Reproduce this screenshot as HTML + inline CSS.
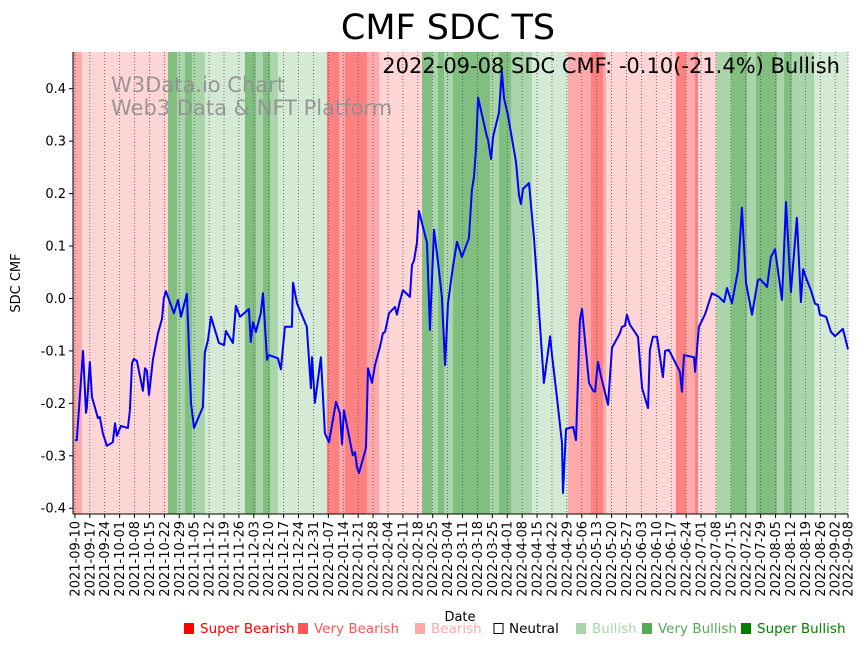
<!DOCTYPE html>
<html><head><meta charset="utf-8"><style>
html,body{margin:0;padding:0;background:#fff;}
svg{display:block;font-family:"DejaVu Sans","Liberation Sans",sans-serif;}
</style></head><body>
<svg id="chart" width="867" height="646" viewBox="0 0 867 646">
<text x="448" y="39" font-size="35" text-anchor="middle">CMF SDC TS</text>
<g id="bands"></g>
<g id="grid"></g>
<text x="111" y="92" font-size="21" fill="#8f8f8f" fill-opacity="0.9">W3Data.io Chart</text>
<text x="111" y="115" font-size="21" fill="#8f8f8f" fill-opacity="0.9">Web3 Data &amp; NFT Platform</text>
<text x="840" y="73" font-size="21" text-anchor="end">2022-09-08 SDC CMF: -0.10(-21.4%) Bullish</text>
<path id="line" fill="none" stroke="#0000ff" stroke-width="2" stroke-linejoin="round"/>
<line x1="73" y1="52" x2="73" y2="514" stroke="#000" stroke-width="1"/>
<line x1="73" y1="514" x2="848" y2="514" stroke="#000" stroke-width="1"/>
<g id="yticks"></g>
<g id="xticks"></g>
<text transform="translate(20,283) rotate(-90)" font-size="13" text-anchor="middle">SDC CMF</text>
<text x="460" y="621" font-size="13" text-anchor="middle">Date</text>
<g font-size="13.5">
<g><rect x="184" y="623" width="10" height="11" fill="#ff0000"/><text x="200" y="633" fill="#ff0000">Super Bearish</text></g>
<g><rect x="298" y="623" width="10" height="11" fill="#ff5555"/><text x="314" y="633" fill="#ff5555">Very Bearish</text></g>
<g><rect x="415" y="623" width="10" height="11" fill="#ffaaaa"/><text x="431" y="633" fill="#ffaaaa">Bearish</text></g>
<g><rect x="494" y="623.5" width="9" height="10" fill="none" stroke="#000"/><text x="509" y="633" fill="#000">Neutral</text></g>
<g><rect x="576" y="623" width="10" height="11" fill="#aad5aa"/><text x="592" y="633" fill="#aad5aa">Bullish</text></g>
<g><rect x="642" y="623" width="10" height="11" fill="#55aa55"/><text x="658" y="633" fill="#55aa55">Very Bullish</text></g>
<g><rect x="741" y="623" width="10" height="11" fill="#008000"/><text x="757" y="633" fill="#008000">Super Bullish</text></g>
</g>
</svg>
<script>
// day offsets from 2021-09-10
const days = [0,0.9,3.8,5.2,5.6,7.0,8.0,10.8,11.7,13.1,15.0,17.8,18.8,19.7,21.6,24.9,25.8,26.8,27.7,29.1,31.9,32.9,33.8,34.8,36.6,39.0,40.9,41.8,42.7,46.5,48.4,49.8,52.6,54.5,55.9,60.1,61.0,62.5,63.9,67.6,70.0,70.9,74.2,75.6,77.5,81.7,82.6,83.6,85.0,87.3,88.3,90.2,91.1,95.3,96.7,98.6,101.9,102.4,104.3,108.9,110.8,111.3,112.7,115.5,117.4,119.3,122.6,124.4,125.4,126.3,130.5,131.5,132.4,133.4,136.7,137.6,139.5,140.9,143.2,144.6,145.6,147.5,150.3,151.2,152.6,154.0,157.3,158.3,159.2,160.6,161.5,165.3,166.7,168.6,170.5,172.3,173.8,175.2,177.5,179.4,181.7,185.0,186.4,187.4,188.3,189.3,193.5,193.9,195.4,196.3,199.1,200.5,201.5,203.3,207.1,208.5,209.4,210.4,213.2,215.5,217.0,220.2,223.1,224.0,226.3,228.7,229.2,230.6,233.9,235.3,237.1,238.1,241.4,243.3,244.2,245.6,247.0,250.3,252.2,255.9,256.9,258.3,259.2,260.6,264.4,266.3,269.1,270.0,271.4,273.3,276.1,277.1,278.9,284.1,285.0,286.0,290.7,291.2,293.0,295.8,299.1,302.4,304.8,306.2,308.5,311.4,313.2,315.1,317.9,320.7,321.7,325.0,326.8,328.7,332.0,333.9,336.2,339.0,340.9,341.9,343.7,345.6,347.5,348.9,349.8,352.7,355.0,356.9,360.6,363.0];
const cmfValues = [-0.270,-0.270,-0.100,-0.218,-0.209,-0.121,-0.188,-0.228,-0.226,-0.257,-0.281,-0.274,-0.238,-0.262,-0.243,-0.247,-0.213,-0.123,-0.115,-0.119,-0.176,-0.133,-0.138,-0.184,-0.117,-0.066,-0.039,0.001,0.014,-0.028,-0.003,-0.035,0.009,-0.199,-0.247,-0.207,-0.104,-0.079,-0.035,-0.085,-0.089,-0.062,-0.085,-0.014,-0.035,-0.020,-0.083,-0.045,-0.064,-0.028,0.010,-0.117,-0.108,-0.114,-0.135,-0.054,-0.054,0.030,-0.009,-0.054,-0.171,-0.112,-0.199,-0.112,-0.257,-0.274,-0.197,-0.218,-0.278,-0.213,-0.299,-0.293,-0.321,-0.333,-0.285,-0.133,-0.161,-0.127,-0.093,-0.066,-0.064,-0.028,-0.016,-0.031,-0.005,0.016,0.003,0.064,0.072,0.106,0.167,0.106,-0.060,0.131,0.070,0.003,-0.127,-0.009,0.060,0.108,0.079,0.115,0.207,0.232,0.283,0.383,0.308,0.304,0.266,0.308,0.354,0.432,0.381,0.350,0.260,0.197,0.180,0.209,0.220,0.117,0.030,-0.161,-0.072,-0.108,-0.188,-0.276,-0.371,-0.249,-0.245,-0.270,-0.041,-0.020,-0.161,-0.176,-0.178,-0.121,-0.148,-0.203,-0.094,-0.066,-0.054,-0.052,-0.031,-0.050,-0.073,-0.171,-0.209,-0.098,-0.073,-0.073,-0.150,-0.100,-0.098,-0.140,-0.178,-0.108,-0.112,-0.140,-0.054,-0.031,0.010,0.003,-0.007,0.020,-0.009,0.054,0.173,0.030,-0.031,0.035,0.037,0.022,0.079,0.094,-0.003,0.184,0.012,0.154,-0.007,0.056,0.035,0.016,-0.010,-0.012,-0.031,-0.035,-0.064,-0.072,-0.058,-0.097];
// sentiment bands: start day, end day, level (-3..3)
const bandStarts = [-0.9,3.3,43.7,47.9,51.7,54.9,61.0,79.8,85.0,88.3,91.6,95.3,118.3,124.0,126.8,137.1,142.8,163.0,167.6,170.5,173.3,177.5,194.9,199.1,204.8,214.6,231.5,242.3,248.0,249.4,282.2,286.9,291.2,292.6,301.1,308.1,315.6,319.8,329.7,333.0,336.7,347.1];
const bandEnds = [3.3,43.7,47.9,51.7,54.9,61.0,79.8,85.0,88.3,91.6,95.3,118.3,124.0,126.8,137.1,142.8,163.0,167.6,170.5,173.3,177.5,194.9,199.1,204.8,214.6,231.5,242.3,248.0,249.4,282.2,286.9,291.2,292.6,301.1,308.1,315.6,319.8,329.7,333.0,336.7,347.1,363.2];
const bandLevels = [-2,-1,3,2,3,2,1,3,2,3,2,1,-3,-2,-3,-2,-1,3,2,3,2,3,2,3,2,1,-2,-3,-2,-1,-3,-2,-3,-1,2,3,2,3,2,3,2,1];
const yTicks = [-0.4,-0.3,-0.2,-0.1,0.0,0.1,0.2,0.3,0.4];
const xTickDays = [0,7,14,21,28,35,42,49,56,63,70,77,84,91,98,105,112,119,126,133,140,147,154,161,168,175,182,189,196,203,210,217,224,231,238,245,252,259,266,273,280,287,294,301,308,315,322,329,336,343,350,357,363];

const NS='http://www.w3.org/2000/svg';
const X0=73,X1=848,Y0=52,Y1=514,DMIN=-0.9,DMAX=363.0,VMIN=-0.411,VMAX=0.470;
const xs=d=>X0+(d-DMIN)/(DMAX-DMIN)*(X1-X0);
const ys=v=>Y1-(v-VMIN)/(VMAX-VMIN)*(Y1-Y0);
const colors={'-3':'#ff8080','-2':'#ffaaaa','-1':'#ffd5d5','1':'#d5ead5','2':'#aad5aa','3':'#80bf80'};
const bg=document.getElementById('bands');
bandStarts.forEach((s,i)=>{
  const r=document.createElementNS(NS,'rect');
  const a=Math.max(xs(s),X0),b=Math.min(xs(bandEnds[i]),X1);
  r.setAttribute('x',a);r.setAttribute('y',Y0);r.setAttribute('width',Math.max(0,b-a)+0.3);r.setAttribute('height',Y1-Y0);
  r.setAttribute('fill',colors[bandLevels[i]]);
  
  
  bg.appendChild(r);
});
const grid=document.getElementById('grid'),xt=document.getElementById('xticks');
const base=new Date(Date.UTC(2021,8,10));
xTickDays.forEach(d=>{
  const x=xs(d);
  const l=document.createElementNS(NS,'line');
  l.setAttribute('x1',x);l.setAttribute('x2',x);l.setAttribute('y1',Y0);l.setAttribute('y2',Y1);
  l.setAttribute('stroke','#555');l.setAttribute('stroke-width','0.8');l.setAttribute('stroke-dasharray','1,2');
  
  
  grid.appendChild(l);
  const t=document.createElementNS(NS,'line');
  t.setAttribute('x1',x);t.setAttribute('x2',x);t.setAttribute('y1',Y1);t.setAttribute('y2',Y1+4);t.setAttribute('stroke','#000');
  
  
  xt.appendChild(t);
  const dt=new Date(base.getTime()+d*86400000);
  const txt=document.createElementNS(NS,'text');
  txt.textContent=dt.toISOString().slice(0,10);
  txt.setAttribute('font-size','13');txt.setAttribute('text-anchor','end');
  txt.setAttribute('transform','translate('+(x+4.5)+','+(Y1+7)+') rotate(-90)');
  
  
  xt.appendChild(txt);
});
const yt=document.getElementById('yticks');
yTicks.forEach(v=>{
  const y=ys(v);
  const t=document.createElementNS(NS,'line');
  t.setAttribute('x1',X0-4);t.setAttribute('x2',X0);t.setAttribute('y1',y);t.setAttribute('y2',y);t.setAttribute('stroke','#000');
  
  
  yt.appendChild(t);
  const txt=document.createElementNS(NS,'text');
  txt.textContent=v.toFixed(1);
  txt.setAttribute('x',X0-7);txt.setAttribute('y',y+4.5);txt.setAttribute('font-size','13');txt.setAttribute('text-anchor','end');
  
  
  yt.appendChild(txt);
});
document.getElementById('line').setAttribute('d',days.map((d,i)=>(i?'L':'M')+xs(d).toFixed(1)+','+ys(cmfValues[i]).toFixed(1)).join(''));
</script>
</body></html>
